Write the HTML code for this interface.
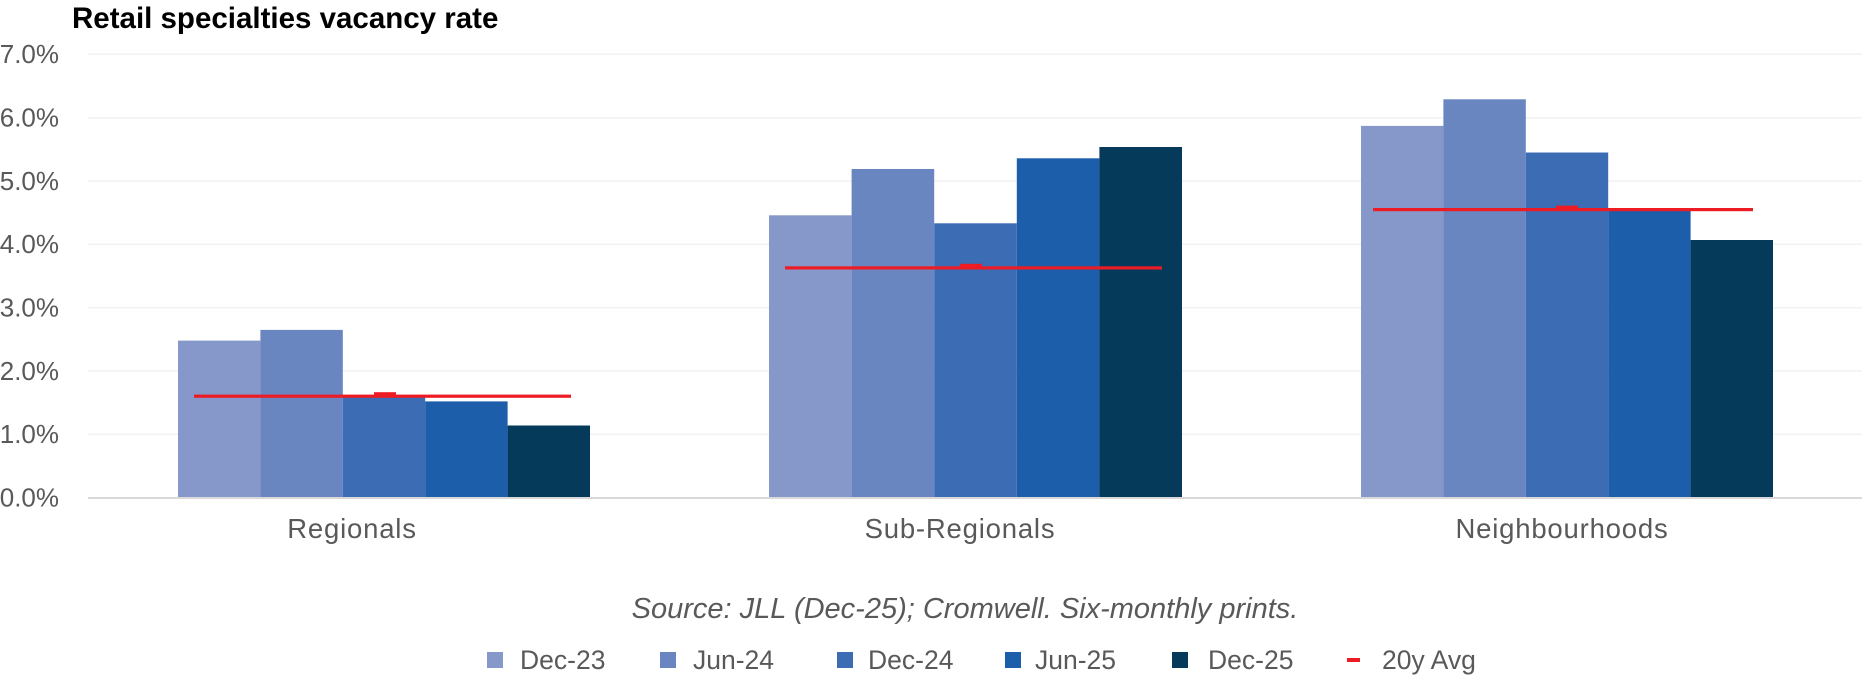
<!DOCTYPE html>
<html><head><meta charset="utf-8"><style>
html,body{margin:0;padding:0;background:#fff;}
svg{display:block;font-family:"Liberation Sans",Arial,sans-serif;}
</style></head><body>
<svg width="1864" height="679" viewBox="0 0 1864 679" xmlns="http://www.w3.org/2000/svg">
<rect width="1864" height="679" fill="#fff"/>
<text x="72" y="28" font-size="29.5" font-weight="bold" fill="#000">Retail specialties vacancy rate</text>
<g stroke="#F2F2F2" stroke-width="1.5">
<line x1="88" x2="1862" y1="54.3" y2="54.3"/>
<line x1="88" x2="1862" y1="117.7" y2="117.7"/>
<line x1="88" x2="1862" y1="181" y2="181"/>
<line x1="88" x2="1862" y1="244.3" y2="244.3"/>
<line x1="88" x2="1862" y1="307.7" y2="307.7"/>
<line x1="88" x2="1862" y1="371" y2="371"/>
<line x1="88" x2="1862" y1="434.4" y2="434.4"/>
</g>
<g font-size="26" fill="#595959" text-anchor="end">
<text x="59" y="63">7.0%</text>
<text x="59" y="126.5">6.0%</text>
<text x="59" y="190">5.0%</text>
<text x="59" y="253">4.0%</text>
<text x="59" y="316.5">3.0%</text>
<text x="59" y="380">2.0%</text>
<text x="59" y="443">1.0%</text>
<text x="59" y="506.5">0.0%</text>
</g>
<g>
<rect x="178" y="340.6" width="82.4" height="157.1" fill="#8698C9"/>
<rect x="260.4" y="329.9" width="82.4" height="167.8" fill="#6986C1"/>
<rect x="342.8" y="396.4" width="82.4" height="101.3" fill="#3B6CB4"/>
<rect x="425.2" y="401.4" width="82.4" height="96.3" fill="#1C5EAA"/>
<rect x="507.6" y="425.5" width="82.4" height="72.2" fill="#053A5A"/>
</g>
<g>
<rect x="769" y="215.3" width="82.6" height="282.4" fill="#8698C9"/>
<rect x="851.6" y="169" width="82.6" height="328.7" fill="#6986C1"/>
<rect x="934.2" y="223.3" width="82.6" height="274.4" fill="#3B6CB4"/>
<rect x="1016.8" y="158.3" width="82.6" height="339.4" fill="#1C5EAA"/>
<rect x="1099.4" y="147" width="82.6" height="350.7" fill="#053A5A"/>
</g>
<g>
<rect x="1361" y="125.9" width="82.4" height="371.8" fill="#8698C9"/>
<rect x="1443.4" y="99.3" width="82.4" height="398.4" fill="#6986C1"/>
<rect x="1525.8" y="152.5" width="82.4" height="345.2" fill="#3B6CB4"/>
<rect x="1608.2" y="211" width="82.4" height="286.7" fill="#1C5EAA"/>
<rect x="1690.6" y="240" width="82.4" height="257.7" fill="#053A5A"/>
</g>
<line x1="88" x2="1862" y1="498" y2="498" stroke="#D9D9D9" stroke-width="2"/>
<g fill="#ED1C24">
<rect x="194" y="394.6" width="377" height="3.2"/>
<rect x="374" y="392.2" width="22" height="4"/>
<rect x="785" y="266.3" width="377" height="3.2"/>
<rect x="960" y="263.8" width="22" height="4"/>
<rect x="1373" y="208" width="380" height="3.2"/>
<rect x="1556" y="205.6" width="22" height="4"/>
</g>
<g font-size="27.5" fill="#595959" text-anchor="middle" letter-spacing="0.8">
<text x="352" y="538">Regionals</text>
<text x="960" y="538">Sub-Regionals</text>
<text x="1562" y="538">Neighbourhoods</text>
</g>
<text x="965" y="618" font-size="29" font-style="italic" fill="#595959" text-anchor="middle">Source: JLL (Dec-25); Cromwell. Six-monthly prints.</text>
<g font-size="26.5" fill="#595959">
<rect x="487" y="652" width="16" height="16" fill="#8698C9"/><text x="520" y="669">Dec-23</text>
<rect x="660" y="652" width="16" height="16" fill="#6986C1"/><text x="693" y="669">Jun-24</text>
<rect x="837" y="652" width="16" height="16" fill="#3B6CB4"/><text x="868" y="669">Dec-24</text>
<rect x="1005" y="652" width="16" height="16" fill="#1C5EAA"/><text x="1035" y="669">Jun-25</text>
<rect x="1172" y="652" width="16" height="16" fill="#053A5A"/><text x="1208" y="669">Dec-25</text>
<rect x="1347" y="658" width="13" height="4" fill="#ED1C24"/><text x="1382" y="669">20y Avg</text>
</g>
</svg>
</body></html>
